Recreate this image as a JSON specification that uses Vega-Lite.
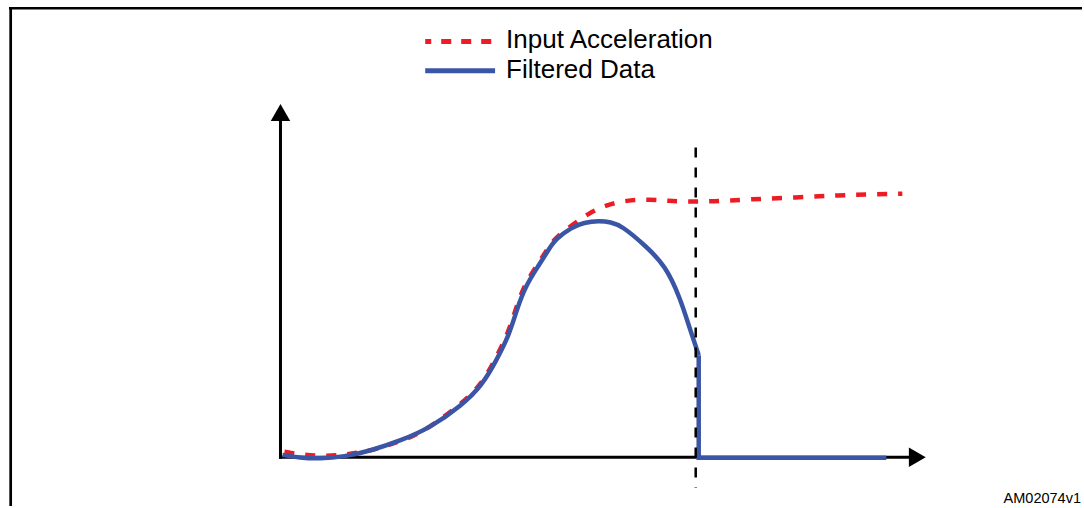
{
  "$schema": "https://vega.github.io/schema/vega-lite/v6.json",
  "width": 1084,
  "height": 508,
  "autosize": {"type": "fit", "contains": "padding"},
  "padding": 0,
  "background": "white",
  "config": {"view": {"stroke": null}},
  "datasets": {
    "frame": [
      {"x": -272, "x2": 803, "y": 450.7, "y2": 450.7},
      {"x": -270.3, "x2": -270.3, "y": 452, "y2": -49}
    ],
    "axes": [
      {"x": 0, "x2": 0, "y": -1.5, "y2": 340},
      {"x": -1.5, "x2": 632, "y": 0, "y2": 0}
    ],
    "yarrow": [{"x": 0, "y": 346}],
    "xarrow": [{"x": 638, "y": 0}],
    "cutoff": [{"x": 416, "y": 311, "y2": -31}],
    "input": [
      {"t": 4, "v": 5.5}, {"t": 22, "v": 2.3}, {"t": 46, "v": 1}, {"t": 69, "v": 3},
      {"t": 89, "v": 6.3}, {"t": 109, "v": 12.3}, {"t": 126, "v": 18.3}, {"t": 146, "v": 27.3},
      {"t": 182, "v": 54}, {"t": 202, "v": 74}, {"t": 215, "v": 98}, {"t": 228, "v": 124},
      {"t": 236, "v": 150}, {"t": 244.5, "v": 173.5}, {"t": 258, "v": 194}, {"t": 268, "v": 210},
      {"t": 275, "v": 220}, {"t": 292, "v": 233}, {"t": 309, "v": 245}, {"t": 325.7, "v": 253},
      {"t": 347, "v": 258}, {"t": 369, "v": 259}, {"t": 389, "v": 257.3}, {"t": 409, "v": 256.5},
      {"t": 432, "v": 256.7}, {"t": 472, "v": 259}, {"t": 516, "v": 260.7}, {"t": 559, "v": 263},
      {"t": 599, "v": 264}, {"t": 623, "v": 264.5}
    ],
    "filtered": [
      {"t": 2, "v": 2.3}, {"t": 19, "v": -0.5}, {"t": 39, "v": -1.7}, {"t": 64, "v": 0.5},
      {"t": 89, "v": 6}, {"t": 122, "v": 17.3}, {"t": 149, "v": 29}, {"t": 182, "v": 52.3},
      {"t": 202, "v": 72.3}, {"t": 215.7, "v": 96}, {"t": 229, "v": 122.3}, {"t": 237, "v": 149},
      {"t": 245.7, "v": 172.3}, {"t": 259, "v": 193}, {"t": 269, "v": 209}, {"t": 275.7, "v": 219},
      {"t": 292, "v": 231}, {"t": 304, "v": 235.5}, {"t": 319, "v": 237.5}, {"t": 331, "v": 236},
      {"t": 342, "v": 232.3}, {"t": 365.7, "v": 212.3}, {"t": 385.7, "v": 192.3}, {"t": 400.7, "v": 159},
      {"t": 409, "v": 132.3}, {"t": 419, "v": 102.3}
    ],
    "reset": [
      {"i": 1, "t": 419, "v": 102.3}, {"i": 2, "t": 419, "v": -0.5}, {"i": 3, "t": 607, "v": -0.5}
    ],
    "legendInput": [{"x": 145, "x2": 215, "y": 417.3}],
    "legendFiltered": [{"x": 145, "x2": 215, "y": 388}],
    "legendText": [
      {"x": 226, "y": 410.7, "label": "Input Acceleration"},
      {"x": 226, "y": 381, "label": "Filtered Data"}
    ],
    "code": [{"x": 802, "y": -46, "label": "AM02074v1"}]
  },
  "layer": [
    {
      "data": {"name": "frame"},
      "mark": {"type": "rule", "color": "black", "strokeWidth": 2.7},
      "encoding": {
        "x": {"field": "x", "type": "quantitative", "scale": {"domain": [-281, 803], "nice": false, "zero": false}, "axis": null},
        "x2": {"field": "x2"},
        "y": {"field": "y", "type": "quantitative", "scale": {"domain": [-49, 459], "nice": false, "zero": false}, "axis": null},
        "y2": {"field": "y2"}
      }
    },
    {
      "data": {"name": "axes"},
      "mark": {"type": "rule", "color": "black", "strokeWidth": 3},
      "encoding": {
        "x": {"field": "x", "type": "quantitative"},
        "x2": {"field": "x2"},
        "y": {"field": "y", "type": "quantitative"},
        "y2": {"field": "y2"}
      }
    },
    {
      "data": {"name": "yarrow"},
      "mark": {"type": "point", "shape": "triangle-up", "filled": true, "color": "black", "opacity": 1, "size": 380},
      "encoding": {
        "x": {"field": "x", "type": "quantitative"},
        "y": {"field": "y", "type": "quantitative"}
      }
    },
    {
      "data": {"name": "xarrow"},
      "mark": {"type": "point", "shape": "triangle-right", "filled": true, "color": "black", "opacity": 1, "size": 380},
      "encoding": {
        "x": {"field": "x", "type": "quantitative"},
        "y": {"field": "y", "type": "quantitative"}
      }
    },
    {
      "data": {"name": "input"},
      "mark": {"type": "line", "interpolate": "basis", "color": "#ED1C24", "strokeWidth": 4.5, "strokeDash": [10, 11]},
      "encoding": {
        "x": {"field": "t", "type": "quantitative"},
        "y": {"field": "v", "type": "quantitative"}
      }
    },
    {
      "data": {"name": "filtered"},
      "mark": {"type": "line", "interpolate": "basis", "color": "#3A55A6", "strokeWidth": 4.5},
      "encoding": {
        "x": {"field": "t", "type": "quantitative"},
        "y": {"field": "v", "type": "quantitative"}
      }
    },
    {
      "data": {"name": "reset"},
      "mark": {"type": "line", "interpolate": "linear", "color": "#3A55A6", "strokeWidth": 4.5},
      "encoding": {
        "x": {"field": "t", "type": "quantitative"},
        "y": {"field": "v", "type": "quantitative"},
        "order": {"field": "i", "type": "quantitative"}
      }
    },
    {
      "data": {"name": "cutoff"},
      "mark": {"type": "rule", "color": "black", "strokeWidth": 2.5, "strokeDash": [10, 10]},
      "encoding": {
        "x": {"field": "x", "type": "quantitative"},
        "y": {"field": "y", "type": "quantitative"},
        "y2": {"field": "y2"}
      }
    },
    {
      "data": {"name": "legendInput"},
      "mark": {"type": "rule", "color": "#ED1C24", "strokeWidth": 5, "strokeDash": [10, 10], "strokeDashOffset": 4},
      "encoding": {
        "x": {"field": "x", "type": "quantitative"},
        "x2": {"field": "x2"},
        "y": {"field": "y", "type": "quantitative"}
      }
    },
    {
      "data": {"name": "legendFiltered"},
      "mark": {"type": "rule", "color": "#3A55A6", "strokeWidth": 5},
      "encoding": {
        "x": {"field": "x", "type": "quantitative"},
        "x2": {"field": "x2"},
        "y": {"field": "y", "type": "quantitative"}
      }
    },
    {
      "data": {"name": "legendText"},
      "mark": {"type": "text", "align": "left", "baseline": "alphabetic", "font": "Liberation Sans", "fontSize": 26, "color": "black"},
      "encoding": {
        "x": {"field": "x", "type": "quantitative"},
        "y": {"field": "y", "type": "quantitative"},
        "text": {"field": "label"}
      }
    },
    {
      "data": {"name": "code"},
      "mark": {"type": "text", "align": "right", "baseline": "alphabetic", "font": "Liberation Sans", "fontSize": 14.5, "color": "black"},
      "encoding": {
        "x": {"field": "x", "type": "quantitative"},
        "y": {"field": "y", "type": "quantitative"},
        "text": {"field": "label"}
      }
    }
  ]
}
